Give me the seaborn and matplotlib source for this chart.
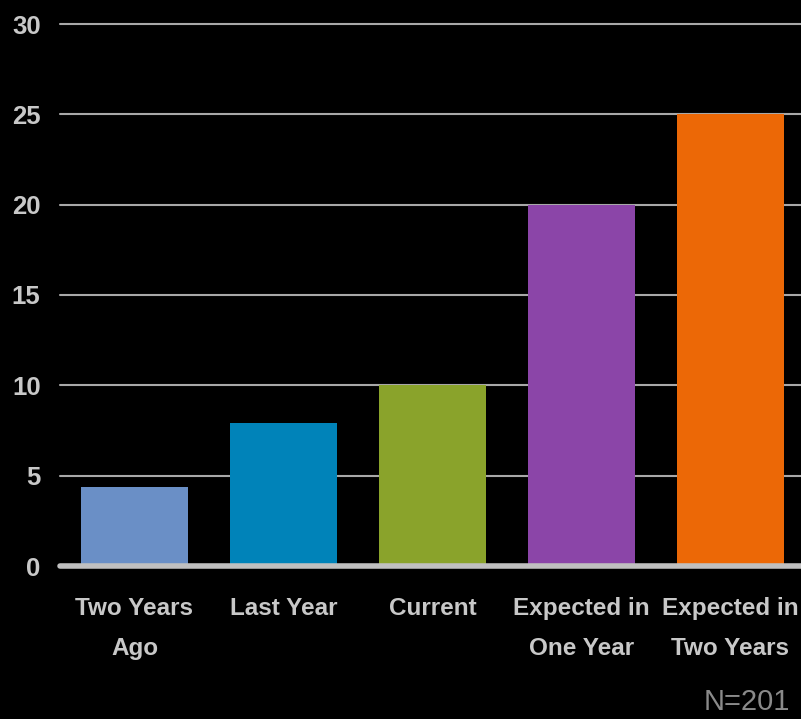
import seaborn as sns
import matplotlib.pyplot as plt
import pandas as pd

categories = ['Two Years\nAgo', 'Last Year', 'Current', 'Expected in\nOne Year', 'Expected in\nTwo Years']
values = [4.4, 7.9, 10.0, 20.0, 25.0]
colors = ['#6a8fc6', '#0083b9', '#8aa32b', '#8b45a8', '#ec6806']
y_ticks = [0, 5, 10, 15, 20, 25, 30]
note = 'N=201'

df = pd.DataFrame({'period': categories, 'value': values})

sns.set_theme(style='dark')
plt.rcParams['font.family'] = ['Liberation Sans Narrow', 'Liberation Sans', 'DejaVu Sans']

fig = plt.figure(figsize=(8.01, 7.19), dpi=100, facecolor='black')
ax = fig.add_axes([60 / 801, (719 - 566) / 719, 741 / 801, (566 - 24) / 719])
ax.set_facecolor('black')

sns.barplot(data=df, x='period', y='value', hue='period', palette=colors,
            width=0.72, saturation=1, legend=False, ax=ax, zorder=3,
            linewidth=0, edgecolor='none')

ax.set_ylim(0, 30)
ax.set_xlim(-0.5, 4.475)
ax.set_yticks(y_ticks)
ax.grid(False)
# gridlines drawn behind the bars, thicker baseline at zero
for t in y_ticks[1:]:
    ax.axhline(t, color='#a8a8a8', lw=1.5, zorder=1, clip_on=False)
ax.axhline(0, color='#c0c0c0', lw=4, zorder=4, solid_capstyle='round', clip_on=False)

for s in ax.spines.values():
    s.set_visible(False)

ax.set_xlabel('')
ax.set_ylabel('')
ax.tick_params(axis='y', length=0, pad=14, labelsize=18.5, labelcolor='#c8c8c8')
ax.tick_params(axis='x', length=0, pad=22, labelsize=17.5, labelcolor='#c8c8c8')
for lab in ax.get_xticklabels() + ax.get_yticklabels():
    lab.set_fontweight('bold')
for lab in ax.get_xticklabels():
    lab.set_linespacing(1.95)

fig.text(790 / 801, 3 / 719, note, ha='right', va='bottom', fontsize=21,
         color='#8a8a8a', family=['Liberation Sans', 'DejaVu Sans'])

fig.savefig('out.png', dpi=100, facecolor='black')
